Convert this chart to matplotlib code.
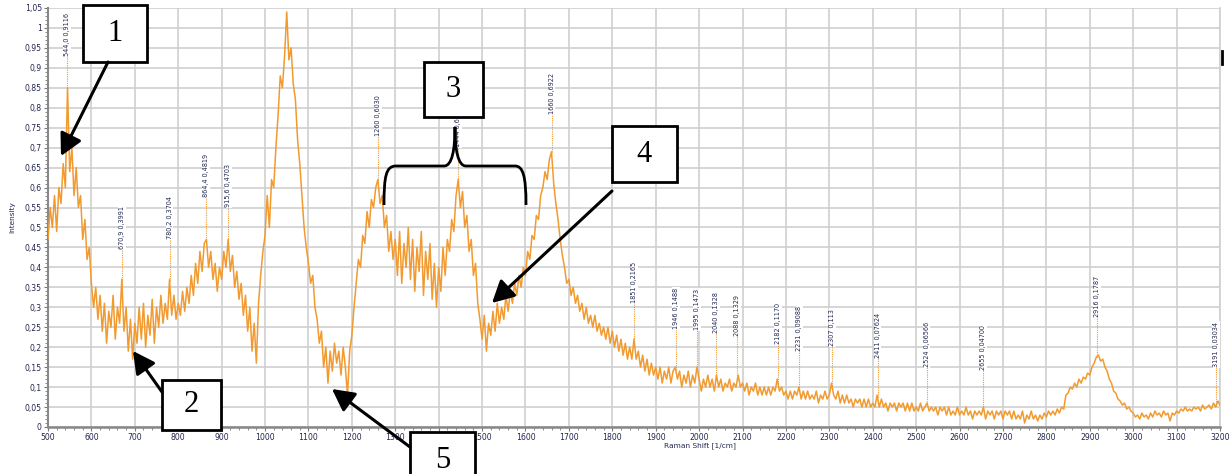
import numpy as np
import matplotlib
matplotlib.use("Agg")
import matplotlib.pyplot as plt
from matplotlib.ticker import AutoMinorLocator, FuncFormatter
from matplotlib.patches import Rectangle, FancyArrowPatch, PathPatch
from matplotlib.path import Path
from matplotlib.lines import Line2D

# ---------------- data ----------------
shift_start, shift_stop, shift_step = 500, 3200, 5
intensity = [
    # 500-595
    0.47, 0.55, 0.50, 0.58, 0.49, 0.60, 0.56, 0.66, 0.60, 0.85, 0.64, 0.70, 0.58, 0.65, 0.55, 0.58, 0.47, 0.52, 0.42, 0.45,
    # 600-695
    0.36, 0.30, 0.35, 0.27, 0.33, 0.24, 0.31, 0.21, 0.29, 0.25, 0.33, 0.22, 0.30, 0.26, 0.37, 0.24, 0.30, 0.19, 0.27, 0.17,
    # 700-795
    0.26, 0.21, 0.30, 0.22, 0.31, 0.20, 0.28, 0.23, 0.32, 0.21, 0.30, 0.25, 0.33, 0.26, 0.31, 0.27, 0.37, 0.28, 0.33, 0.27,
    # 800-895
    0.31, 0.28, 0.34, 0.29, 0.35, 0.31, 0.38, 0.33, 0.41, 0.36, 0.44, 0.39, 0.46, 0.47, 0.40, 0.44, 0.37, 0.41, 0.34, 0.40,
    # 900-995
    0.37, 0.44, 0.40, 0.47, 0.39, 0.43, 0.35, 0.39, 0.32, 0.36, 0.28, 0.33, 0.24, 0.30, 0.19, 0.26, 0.16, 0.31, 0.38, 0.44,
    # 1000-1095
    0.48, 0.58, 0.50, 0.62, 0.60, 0.70, 0.78, 0.88, 0.85, 0.93, 1.04, 0.92, 0.95, 0.86, 0.82, 0.72, 0.66, 0.58, 0.50, 0.45,
    # 1100-1195
    0.41, 0.36, 0.38, 0.30, 0.27, 0.21, 0.24, 0.15, 0.20, 0.11, 0.19, 0.14, 0.21, 0.16, 0.19, 0.13, 0.20, 0.15, 0.08, 0.19,
    # 1200-1295
    0.23, 0.30, 0.36, 0.42, 0.40, 0.48, 0.46, 0.54, 0.50, 0.57, 0.55, 0.60, 0.62, 0.56, 0.58, 0.50, 0.53, 0.44, 0.49, 0.42,
    # 1300-1395
    0.47, 0.38, 0.49, 0.36, 0.46, 0.40, 0.50, 0.37, 0.47, 0.34, 0.45, 0.39, 0.49, 0.33, 0.44, 0.37, 0.46, 0.32, 0.41, 0.30,
    # 1400-1495
    0.40, 0.34, 0.45, 0.38, 0.47, 0.44, 0.52, 0.49, 0.58, 0.62, 0.55, 0.59, 0.50, 0.53, 0.44, 0.47, 0.38, 0.41, 0.31, 0.27,
    # 1500-1595
    0.22, 0.28, 0.19, 0.26, 0.23, 0.29, 0.24, 0.31, 0.26, 0.30, 0.27, 0.33, 0.29, 0.34, 0.31, 0.36, 0.33, 0.38, 0.35, 0.40,
    # 1600-1695
    0.38, 0.44, 0.42, 0.48, 0.47, 0.53, 0.52, 0.58, 0.60, 0.64, 0.62, 0.67, 0.69, 0.61, 0.56, 0.52, 0.47, 0.43, 0.40, 0.36,
    # 1700-1795
    0.37, 0.33, 0.35, 0.31, 0.33, 0.29, 0.31, 0.27, 0.30, 0.26, 0.28, 0.25, 0.28, 0.24, 0.26, 0.23, 0.25, 0.22, 0.25, 0.21,
    # 1800-1895
    0.24, 0.20, 0.23, 0.19, 0.22, 0.18, 0.21, 0.17, 0.20, 0.17, 0.22, 0.17, 0.19, 0.15, 0.18, 0.14, 0.17, 0.13, 0.16, 0.13,
    # 1900-1995
    0.15, 0.12, 0.15, 0.11, 0.14, 0.12, 0.15, 0.11, 0.14, 0.15, 0.12, 0.14, 0.10, 0.13, 0.11, 0.14, 0.10, 0.13, 0.11, 0.15,
    # 2000-2095
    0.12, 0.09, 0.12, 0.10, 0.13, 0.10, 0.12, 0.09, 0.13, 0.10, 0.12, 0.09, 0.11, 0.10, 0.12, 0.09, 0.11, 0.10, 0.13, 0.10,
    # 2100-2195
    0.11, 0.09, 0.11, 0.08, 0.10, 0.09, 0.11, 0.08, 0.10, 0.08, 0.10, 0.08, 0.10, 0.08, 0.10, 0.09, 0.12, 0.09, 0.10, 0.08,
    # 2200-2295
    0.09, 0.07, 0.09, 0.07, 0.09, 0.08, 0.10, 0.07, 0.09, 0.07, 0.09, 0.07, 0.08, 0.07, 0.09, 0.06, 0.08, 0.07, 0.09, 0.07,
    # 2300-2395
    0.08, 0.11, 0.08, 0.07, 0.09, 0.06, 0.08, 0.06, 0.08, 0.06, 0.07, 0.05, 0.07, 0.06, 0.07, 0.05, 0.07, 0.05, 0.07, 0.05,
    # 2400-2495
    0.06, 0.05, 0.08, 0.05, 0.07, 0.05, 0.06, 0.04, 0.06, 0.05, 0.06, 0.04, 0.06, 0.05, 0.06, 0.04, 0.06, 0.04, 0.06, 0.04,
    # 2500-2595
    0.05, 0.04, 0.06, 0.04, 0.05, 0.06, 0.04, 0.05, 0.04, 0.05, 0.03, 0.05, 0.04, 0.05, 0.03, 0.05, 0.03, 0.04, 0.03, 0.05,
    # 2600-2695
    0.03, 0.04, 0.03, 0.05, 0.03, 0.04, 0.02, 0.04, 0.03, 0.04, 0.03, 0.05, 0.02, 0.04, 0.03, 0.04, 0.02, 0.04, 0.03, 0.04,
    # 2700-2795
    0.02, 0.04, 0.03, 0.04, 0.02, 0.04, 0.02, 0.03, 0.02, 0.04, 0.01, 0.03, 0.02, 0.04, 0.02, 0.03, 0.015, 0.03, 0.02, 0.035,
    # 2800-2895
    0.025, 0.04, 0.03, 0.04, 0.03, 0.045, 0.035, 0.05, 0.045, 0.08, 0.085, 0.10, 0.095, 0.11, 0.10, 0.12, 0.11, 0.125, 0.12, 0.135,
    # 2900-2995
    0.13, 0.15, 0.16, 0.175, 0.18, 0.165, 0.17, 0.15, 0.14, 0.12, 0.11, 0.09, 0.085, 0.07, 0.065, 0.055, 0.06, 0.045, 0.05, 0.04,
    # 3000-3095
    0.035, 0.025, 0.03, 0.02, 0.035, 0.025, 0.03, 0.02, 0.035, 0.025, 0.04, 0.03, 0.035, 0.025, 0.04, 0.03, 0.035, 0.015, 0.035, 0.03,
    # 3100-3200
    0.04, 0.035, 0.045, 0.04, 0.05, 0.04, 0.045, 0.04, 0.05, 0.045, 0.05, 0.04, 0.055, 0.045, 0.05, 0.055, 0.045, 0.06, 0.05, 0.065, 0.055,
]
raman_shift = np.arange(shift_start, shift_stop + shift_step, shift_step)

peak_x = [544.0, 670.9, 780.2, 864.4, 915.6, 1260, 1444, 1660, 1851, 1946, 1995, 2040,
          2088, 2182, 2231, 2307, 2411, 2524, 2655, 2916, 3191]
peak_labels = ["544,0 0,9116", "670,9 0,3991", "780,2 0,3704", "864,4 0,4819", "915,6 0,4703",
               "1260 0,6030", "1444 0,6229", "1660 0,6922", "1851 0,2165", "1946 0,1488",
               "1995 0,1473", "2040 0,1328", "2088 0,1329", "2182 0,1170", "2231 0,09088",
               "2307 0,113", "2411 0,07624", "2524 0,06566", "2655 0,04700", "2916 0,1787",
               "3191 0,03034"]
label_base = [0.930, 0.446, 0.471, 0.576, 0.551, 0.729, 0.702, 0.784, 0.311, 0.246,
              0.243, 0.236, 0.228, 0.208, 0.190, 0.203, 0.173, 0.150, 0.143, 0.276, 0.150]

x_ticks = list(range(500, 3201, 100))
y_ticks = [round(0.05 * i, 2) for i in range(0, 22)]

# ---------------- figure ----------------
W, H = 1230, 474
fig = plt.figure(figsize=(W / 100, H / 100), dpi=100)
ax = fig.add_axes([48 / W, 47 / H, 1172 / W, 419 / H])

orange = "#F29A2E"
navy = "#22264f"

ax.plot(raman_shift, intensity, color=orange, lw=1.1, zorder=3)

ax.set_xlim(500, 3200)
ax.set_ylim(0, 1.05)
ax.set_xticks(x_ticks)
ax.set_yticks(y_ticks)
ax.xaxis.set_minor_locator(AutoMinorLocator(5))
ax.yaxis.set_minor_locator(AutoMinorLocator(5))


def fmt(v, pos):
    s = f"{v:.2f}".rstrip("0").rstrip(".")
    return s.replace(".", ",")


ax.yaxis.set_major_formatter(FuncFormatter(fmt))
ax.grid(True, which="major", color="#cfcfcf", lw=1.2, zorder=0)
ax.set_axisbelow(True)
ax.spines["top"].set_visible(False)
ax.spines["right"].set_color("#cfcfcf")
ax.spines["right"].set_linewidth(1.2)
ax.spines["left"].set_color("#888888")
ax.spines["bottom"].set_color("#888888")
ax.spines["left"].set_linewidth(1.5)
ax.spines["bottom"].set_linewidth(1.8)
ax.tick_params(which="major", direction="out", length=3, color="#777777",
               labelsize=5.6, labelcolor=navy, pad=1.5)
ax.tick_params(which="minor", direction="out", length=2, color="#777777")

# peak labels
for px_, lab, base in zip(peak_x, peak_labels, label_base):
    yv = float(np.interp(px_, raman_shift, intensity))
    ax.vlines(px_, min(yv, base), base, colors=orange, linestyles=(0, (1, 1)), lw=0.8, zorder=4)
    ax.text(px_, base, lab, rotation=90, ha="center", va="bottom", fontsize=4.7,
            color=navy, zorder=5,
            bbox=dict(facecolor="white", edgecolor="none", pad=0.6))

fig.text(700 / W, 1 - 446 / H, "Raman Shift [1/cm]", ha="center", va="center",
         fontsize=5.3, color=navy)
fig.text(12 / W, 1 - 217 / H, "Intensity", ha="center", va="center", rotation=90,
         fontsize=5.3, color=navy)


# ---------------- callouts (pixel coords, top-left origin) ----------------
def F(x, y):
    return (x / W, 1 - y / H)


def box(x0, y0, x1, y1, label):
    r = Rectangle(F(x0, y1), (x1 - x0) / W, (y1 - y0) / H, transform=fig.transFigure,
                  facecolor="white", edgecolor="black", lw=2, zorder=10)
    fig.add_artist(r)
    fig.text((x0 + x1) / 2 / W, 1 - ((y0 + y1) / 2) / H, label, ha="center", va="center",
             fontsize=22, family="Liberation Serif", zorder=11)


def arrow(x0, y0, x1, y1):
    a = FancyArrowPatch(F(x0, y0), F(x1, y1), transform=fig.transFigure,
                        arrowstyle="-|>,head_length=0.95,head_width=0.5", mutation_scale=14,
                        color="black", lw=2.2, zorder=12, shrinkA=0, shrinkB=0)
    fig.add_artist(a)


box(83, 5, 147, 62, "1")
arrow(108, 62, 61, 156)
box(162, 380, 221, 430, "2")
arrow(162, 392, 133, 351)
box(424, 62, 483, 117, "3")
box(612, 126, 677, 182, "4")
arrow(612, 191, 492, 303)
box(410, 432, 475, 490, "5")
arrow(410, 447, 332, 389)

# brace under box 3
verts = [F(384, 205), F(384, 176), F(386, 166), F(396, 166),
         F(444, 166),
         F(452, 166), F(455, 150), F(455, 127),
         F(455, 150), F(458, 166), F(466, 166),
         F(515, 166),
         F(523, 166), F(526, 176), F(526, 205)]
codes = [Path.MOVETO, Path.CURVE4, Path.CURVE4, Path.CURVE4,
         Path.LINETO,
         Path.CURVE4, Path.CURVE4, Path.CURVE4,
         Path.CURVE4, Path.CURVE4, Path.CURVE4,
         Path.LINETO,
         Path.CURVE4, Path.CURVE4, Path.CURVE4]
fig.add_artist(PathPatch(Path(verts, codes), transform=fig.transFigure, facecolor="none",
                         edgecolor="black", lw=2, zorder=9))

# edge of a cropped box at right border
fig.add_artist(Line2D([1222 / W, 1222 / W], [1 - 51 / H, 1 - 64 / H], transform=fig.transFigure,
                      color="black", lw=2, zorder=12))

fig.savefig("out.png", dpi=100)
